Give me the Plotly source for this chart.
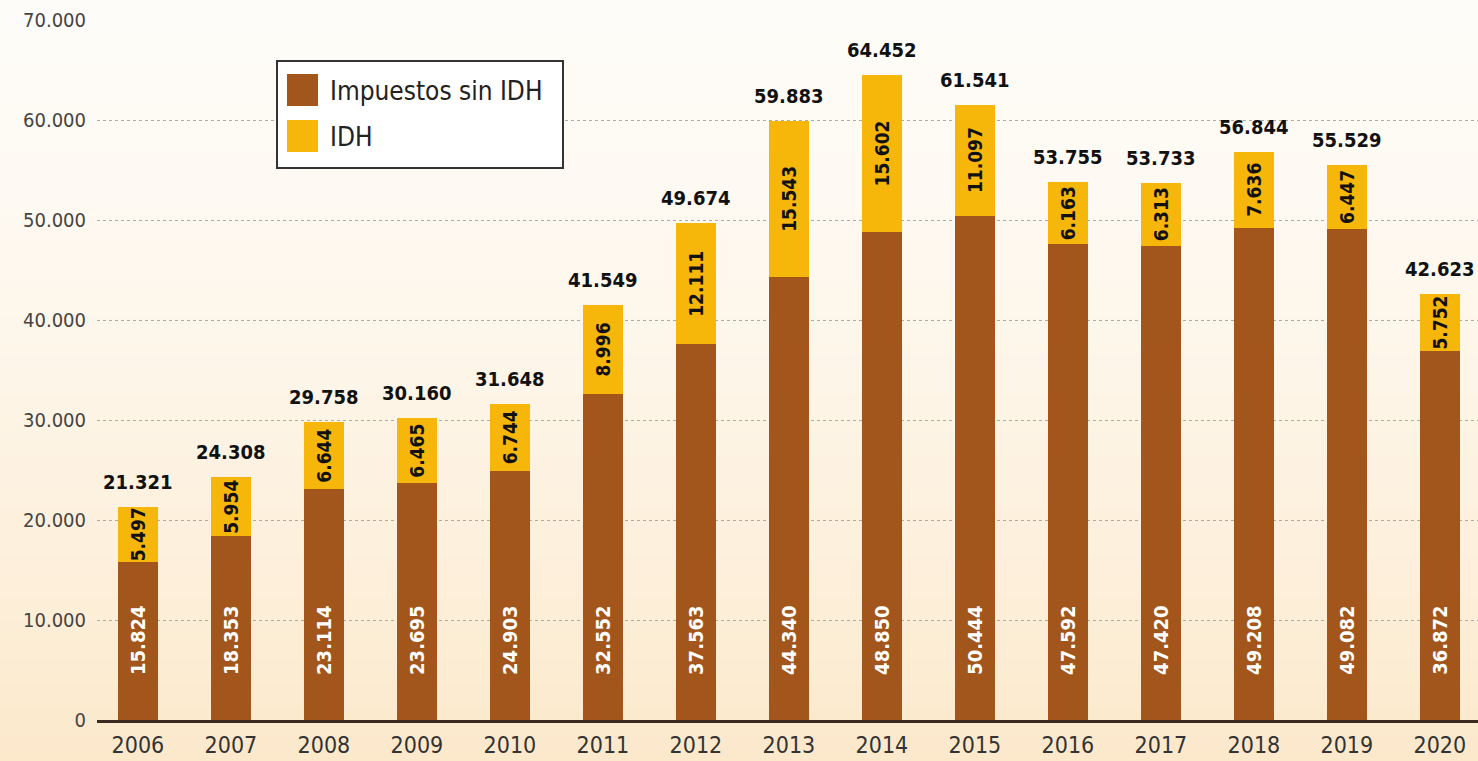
import plotly.graph_objects as go

years = ["2006", "2007", "2008", "2009", "2010", "2011", "2012", "2013",
         "2014", "2015", "2016", "2017", "2018", "2019", "2020"]
impuestos_sin_idh = [15824, 18353, 23114, 23695, 24903, 32552, 37563, 44340,
                     48850, 50444, 47592, 47420, 49208, 49082, 36872]
idh = [5497, 5954, 6644, 6465, 6744, 8996, 12111, 15543,
       15602, 11097, 6163, 6313, 7636, 6447, 5752]
totales = [21321, 24308, 29758, 30160, 31648, 41549, 49674, 59883,
           64452, 61541, 53755, 53733, 56844, 55529, 42623]
y_ticks = [0, 10000, 20000, 30000, 40000, 50000, 60000, 70000]

BROWN = "#A2561B"
GOLD = "#F6B60A"
FONT = "DejaVu Sans Condensed, Roboto Condensed, Roboto, sans-serif"


def fmt(v):
    return f"{v:,}".replace(",", ".")


W, H = 1478, 761
ML, MR, MT, MB = 97, 0, 20, 41
PW, PH = W - ML - MR, H - MT - MB


def px_x(px):
    return (px - ML) / PW


def px_y(py):
    return (H - MB - py) / PH


fig = go.Figure()
fig.add_trace(go.Bar(
    x=years, y=impuestos_sin_idh, name="Impuestos sin IDH",
    marker=dict(color=BROWN, line=dict(width=0)), showlegend=False,
))
fig.add_trace(go.Bar(
    x=years, y=idh, name="IDH",
    marker=dict(color=GOLD, line=dict(width=0)), showlegend=False,
    text=[fmt(v) for v in idh], textposition="inside", textangle=-90,
    insidetextanchor="middle", constraintext="none",
    textfont=dict(family=FONT, size=19, color="#111111", weight="bold"),
))

annotations = []
for i, (base, tot) in enumerate(zip(impuestos_sin_idh, totales)):
    annotations.append(dict(
        x=i, y=tot, xref="x", yref="y", text=fmt(tot), showarrow=False,
        yanchor="bottom", yshift=11,
        font=dict(family=FONT, size=20, color="#111111", weight="bold"),
    ))
    annotations.append(dict(
        x=i, y=8000, xref="x", yref="y", text=fmt(base), showarrow=False,
        textangle=-90,
        font=dict(family=FONT, size=20, color="#FFFFFF", weight="bold"),
    ))

shapes = []
# background gradient
top = (254, 252, 248)
bot = (252, 233, 204)
n = 60
for k_ in range(n):
    t = k_ / (n - 1)
    tt = t ** 1.4
    c = tuple(round(top[k] + (bot[k] - top[k]) * tt) for k in range(3))
    y0 = H * k_ / n
    y1 = H * (k_ + 1) / n + 1
    shapes.append(dict(
        type="rect", xref="paper", yref="paper", layer="below",
        x0=px_x(0), x1=px_x(W), y0=px_y(y1), y1=px_y(y0),
        fillcolor=f"rgb{c}", line=dict(width=0),
    ))

# custom legend
shapes.append(dict(type="rect", xref="paper", yref="paper",
                   x0=px_x(277), x1=px_x(563), y0=px_y(168), y1=px_y(61),
                   fillcolor="white", line=dict(color="#333333", width=2)))
shapes.append(dict(type="rect", xref="paper", yref="paper",
                   x0=px_x(287), x1=px_x(318), y0=px_y(106), y1=px_y(74),
                   fillcolor=BROWN, line=dict(width=0)))
shapes.append(dict(type="rect", xref="paper", yref="paper",
                   x0=px_x(287), x1=px_x(318), y0=px_y(152), y1=px_y(120),
                   fillcolor=GOLD, line=dict(width=0)))
annotations.append(dict(xref="paper", yref="paper", x=px_x(328), y=px_y(91),
                        xanchor="left", yanchor="middle", showarrow=False,
                        text="Impuestos sin IDH",
                        font=dict(family=FONT, size=26, color="#222222")))
annotations.append(dict(xref="paper", yref="paper", x=px_x(328), y=px_y(137),
                        xanchor="left", yanchor="middle", showarrow=False,
                        text="IDH",
                        font=dict(family=FONT, size=26, color="#222222")))

fig.update_layout(
    width=W, height=H,
    margin=dict(l=ML, r=MR, t=MT, b=MB),
    barmode="stack", bargap=0.57,
    paper_bgcolor="#FDF6EC", plot_bgcolor="rgba(0,0,0,0)",
    separators=",.",
    shapes=shapes, annotations=annotations,
    xaxis=dict(
        type="category", range=[-0.44, 14.41], showgrid=False,
        showline=True, linecolor="#3A2A22", linewidth=3,
        tickfont=dict(family=FONT, size=23, color="#333333"),
        ticks="", ticklabelstandoff=2,
    ),
    yaxis=dict(
        range=[0, 70000], tickvals=y_ticks,
        ticktext=[fmt(v) for v in y_ticks],
        showgrid=True, gridcolor="#B0AAA2", gridwidth=1, griddash="dot",
        zeroline=False, showline=False,
        tickfont=dict(family=FONT, size=20, color="#444444"),
        ticks="", ticklabelstandoff=10,
    ),
)

fig.write_html("out.html", config={"displayModeBar": False},
               post_script="document.body.style.margin='0';")
